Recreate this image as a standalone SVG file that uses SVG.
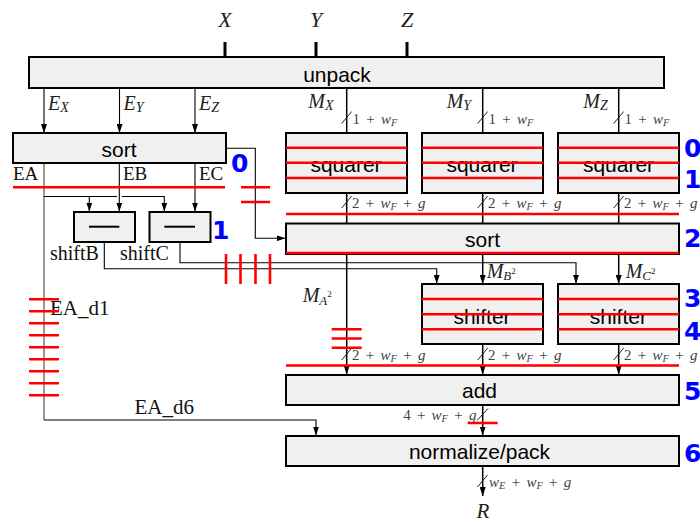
<svg xmlns="http://www.w3.org/2000/svg" width="700" height="522" viewBox="0 0 700 522">
<style>
.box{fill:#f0f0f0;stroke:#000;stroke-width:2}
.red{stroke:#ff0000;stroke-width:2.6;fill:none}
.w{stroke:#000;stroke-width:1.1;fill:none}
.wb{stroke:#000;stroke-width:1.5;fill:none}
.wg{stroke:#808080;stroke-width:1.6;fill:none}
.sl{stroke:#222;stroke-width:1;fill:none}
.t{font-family:"Liberation Sans",Arial,sans-serif;font-size:21px;fill:#000;text-anchor:middle}
.rm{font-family:"Liberation Serif","Times New Roman",serif;fill:#111}
.m{font-family:"Liberation Serif","Times New Roman",serif;font-style:italic;fill:#222}
.sm{font-family:"Liberation Serif","Times New Roman",serif;font-size:15px;fill:#444;word-spacing:2.5px}
.n{font-family:"DejaVu Sans",sans-serif;font-weight:bold;font-size:25px;fill:#0000ff}
</style>
<defs>
<marker id="ah" viewBox="0 0 9 6" markerWidth="9" markerHeight="6" refX="9" refY="3" orient="auto" markerUnits="userSpaceOnUse">
<path d="M0,0 L9,3 L0,6 z" fill="#000"/>
</marker>
</defs>

<!-- inputs -->
<g id="inputs">
<line x1="225" y1="42" x2="225" y2="57" stroke="#000" stroke-width="3"/>
<line x1="316" y1="42" x2="316" y2="57" stroke="#000" stroke-width="3"/>
<line x1="407" y1="42" x2="407" y2="57" stroke="#000" stroke-width="3"/>
<text class="m" x="225" y="27" font-size="22" text-anchor="middle">X</text>
<text class="m" x="316" y="27" font-size="22" text-anchor="middle">Y</text>
<text class="m" x="407" y="27" font-size="22" text-anchor="middle">Z</text>
</g>

<!-- connectors -->
<g id="connectors">
<line class="w" x1="44" y1="88" x2="44" y2="133" marker-end="url(#ah)"/>
<line class="w" x1="119.5" y1="88" x2="119.5" y2="133" marker-end="url(#ah)"/>
<line class="w" x1="195" y1="88" x2="195" y2="133" marker-end="url(#ah)"/>
<line class="wb" x1="346.7" y1="88" x2="346.7" y2="133"/>
<line class="wb" x1="482.7" y1="88" x2="482.7" y2="133"/>
<line class="wb" x1="618.7" y1="88" x2="618.7" y2="133"/>
<line class="wb" x1="346.7" y1="193" x2="346.7" y2="223"/>
<line class="wb" x1="482.7" y1="193" x2="482.7" y2="223"/>
<line class="wb" x1="618.7" y1="193" x2="618.7" y2="223"/>
<!-- left sort outputs -->
<path class="wg" d="M44,163 V420"/>
<path class="w" d="M44,420 H316 V435.5" marker-end="url(#ah)"/>
<line class="w" x1="119.3" y1="163" x2="119.3" y2="211.5" marker-end="url(#ah)"/>
<line class="w" x1="195" y1="163" x2="195" y2="211.5" marker-end="url(#ah)"/>
<path class="w" d="M44,196.5 H117"/>
<path class="w" d="M89.3,196.5 V211.5" marker-end="url(#ah)"/>
<path class="w" d="M121.7,196.5 H164.3 V211.5" marker-end="url(#ah)"/>
<path class="w" d="M226,148.3 H255.3 V238.3 H285.5" marker-end="url(#ah)"/>
<!-- shift outputs -->
<path class="w" d="M104.3,241.7 V268.7 H436.7 V283.8" marker-end="url(#ah)"/>
<path class="w" d="M180,241.7 V262.8 H576 V283.8" marker-end="url(#ah)"/>
<!-- sort big outputs -->
<line class="wb" x1="346.7" y1="254" x2="346.7" y2="374.5" marker-end="url(#ah)"/>
<line class="wb" x1="482.7" y1="254" x2="482.7" y2="284" marker-end="url(#ah)"/>
<line class="wb" x1="618.7" y1="254" x2="618.7" y2="284" marker-end="url(#ah)"/>
<line class="wb" x1="482.7" y1="344" x2="482.7" y2="374.5" marker-end="url(#ah)"/>
<line class="wb" x1="618.7" y1="344" x2="618.7" y2="374.5" marker-end="url(#ah)"/>
<line class="wb" x1="482.7" y1="405" x2="482.7" y2="435.5" marker-end="url(#ah)"/>
<line class="wb" x1="482.7" y1="466" x2="482.7" y2="496" marker-end="url(#ah)"/>
<!-- width slashes -->
<path class="sl" d="M341.7,123.5 l10,-12 M477.7,123.5 l10,-12 M613.7,123.5 l10,-12"/>
<path class="sl" d="M341.7,208 l10,-12 M477.7,208 l10,-12 M613.7,208 l10,-12"/>
<path class="sl" d="M341.7,360 l10,-12 M477.7,360 l10,-12 M613.7,360 l10,-12"/>
<path class="sl" d="M477,420.5 l11,-12"/>
<path class="sl" d="M477.5,487 l10,-12"/>
</g>

<!-- nodes -->
<g id="unpack">
<rect class="box" x="29" y="57" width="635" height="31"/>
<text class="t" x="337" y="81.5">unpack</text>
</g>
<g id="sort1">
<rect class="box" x="13" y="133" width="213" height="30"/>
<text class="t" x="119" y="157">sort</text>
</g>
<g id="squarerX">
<rect class="box" x="286" y="133" width="121" height="60"/>
<text class="t" x="346" y="171.5">squarer</text>
</g>
<g id="squarerY">
<rect class="box" x="422" y="133" width="121" height="60"/>
<text class="t" x="482" y="171.5">squarer</text>
</g>
<g id="squarerZ">
<rect class="box" x="558" y="133" width="121" height="60"/>
<text class="t" x="618.5" y="171.5">squarer</text>
</g>
<g id="shiftB">
<rect class="box" x="74" y="212" width="61" height="30"/>
<line x1="89" y1="226.7" x2="119.3" y2="226.7" stroke="#000" stroke-width="2"/>
</g>
<g id="shiftC">
<rect class="box" x="149.5" y="212" width="61" height="30"/>
<line x1="164.3" y1="226.7" x2="195" y2="226.7" stroke="#000" stroke-width="2"/>
</g>
<g id="sort2">
<rect class="box" x="286" y="223.5" width="393" height="30.5"/>
<text class="t" x="482.5" y="246.5">sort</text>
</g>
<g id="shifterB">
<rect class="box" x="422" y="284" width="121" height="60"/>
<text class="t" x="482" y="324">shifter</text>
</g>
<g id="shifterC">
<rect class="box" x="558" y="284" width="121" height="60"/>
<text class="t" x="618.3" y="324">shifter</text>
</g>
<g id="add">
<rect class="box" x="286" y="375" width="393" height="30"/>
<text class="t" x="479.5" y="398">add</text>
</g>
<g id="normalize">
<rect class="box" x="286" y="436" width="393" height="30"/>
<text class="t" x="479.5" y="459">normalize/pack</text>
</g>

<!-- labels -->
<g id="labels">
<text class="m" x="48" y="110" font-size="20">E<tspan font-size="14" dy="2">X</tspan></text>
<text class="m" x="123.5" y="110" font-size="20">E<tspan font-size="14" dy="2">Y</tspan></text>
<text class="m" x="199" y="110" font-size="20">E<tspan font-size="14" dy="2">Z</tspan></text>
<text class="m" x="308.3" y="108.3" font-size="20">M<tspan font-size="14" dy="2">X</tspan></text>
<text class="m" x="446.7" y="108.3" font-size="20">M<tspan font-size="14" dy="2">Y</tspan></text>
<text class="m" x="583.3" y="108.3" font-size="20">M<tspan font-size="14" dy="2">Z</tspan></text>
<text class="sm" x="352.5" y="124.3">1 + <tspan font-style="italic">w</tspan><tspan font-style="italic" font-size="10.5" dy="2">F</tspan></text>
<text class="sm" x="488.5" y="124.3">1 + <tspan font-style="italic">w</tspan><tspan font-style="italic" font-size="10.5" dy="2">F</tspan></text>
<text class="sm" x="624.5" y="124.3">1 + <tspan font-style="italic">w</tspan><tspan font-style="italic" font-size="10.5" dy="2">F</tspan></text>
<text class="sm" x="352" y="208.3">2 + <tspan font-style="italic">w</tspan><tspan font-style="italic" font-size="10.5" dy="2">F</tspan><tspan dy="-2"> + </tspan><tspan font-style="italic">g</tspan></text>
<text class="sm" x="488" y="208.3">2 + <tspan font-style="italic">w</tspan><tspan font-style="italic" font-size="10.5" dy="2">F</tspan><tspan dy="-2"> + </tspan><tspan font-style="italic">g</tspan></text>
<text class="sm" x="624" y="208.3">2 + <tspan font-style="italic">w</tspan><tspan font-style="italic" font-size="10.5" dy="2">F</tspan><tspan dy="-2"> + </tspan><tspan font-style="italic">g</tspan></text>
<text class="sm" x="352" y="360">2 + <tspan font-style="italic">w</tspan><tspan font-style="italic" font-size="10.5" dy="2">F</tspan><tspan dy="-2"> + </tspan><tspan font-style="italic">g</tspan></text>
<text class="sm" x="488" y="360">2 + <tspan font-style="italic">w</tspan><tspan font-style="italic" font-size="10.5" dy="2">F</tspan><tspan dy="-2"> + </tspan><tspan font-style="italic">g</tspan></text>
<text class="sm" x="624" y="360">2 + <tspan font-style="italic">w</tspan><tspan font-style="italic" font-size="10.5" dy="2">F</tspan><tspan dy="-2"> + </tspan><tspan font-style="italic">g</tspan></text>
<text class="sm" x="476.5" y="420" text-anchor="end">4 + <tspan font-style="italic">w</tspan><tspan font-style="italic" font-size="10.5" dy="2">F</tspan><tspan dy="-2"> + </tspan><tspan font-style="italic">g</tspan></text>
<text class="sm" x="489" y="486.5"><tspan font-style="italic">w</tspan><tspan font-style="italic" font-size="10.5" dy="2">E</tspan><tspan dy="-2"> + </tspan><tspan font-style="italic">w</tspan><tspan font-style="italic" font-size="10.5" dy="2">F</tspan><tspan dy="-2"> + </tspan><tspan font-style="italic">g</tspan></text>
<text class="m" x="483" y="518" font-size="21" text-anchor="middle">R</text>
<text class="m" x="302.7" y="301.7" font-size="20" fill="#444">M<tspan font-size="13" dy="3">A</tspan><tspan font-size="9" font-style="normal" dy="-8">2</tspan></text>
<text class="m" x="486.7" y="278.3" font-size="20" fill="#333">M<tspan font-size="13" dy="1.5">B</tspan><tspan font-size="9" font-style="normal" dy="-6">2</tspan></text>
<text class="m" x="625.7" y="278.3" font-size="20" fill="#333">M<tspan font-size="13" dy="1.5">C</tspan><tspan font-size="9" font-style="normal" dy="-6">2</tspan></text>
<text class="rm" x="13" y="180" font-size="19">EA</text>
<text class="rm" x="123" y="180" font-size="19">EB</text>
<text class="rm" x="199" y="180" font-size="19">EC</text>
<text class="rm" x="50" y="260" font-size="20">shiftB</text>
<text class="rm" x="120" y="260" font-size="20">shiftC</text>
<text class="rm" x="50" y="315" font-size="21">EA_d1</text>
<text class="rm" x="134.5" y="414" font-size="21">EA_d6</text>
</g>

<!-- pipeline registers -->
<g id="registers">
<path class="red" d="M13,187.3 H225 M241,187.3 H270 M241,202 H270"/>
<path class="red" d="M286,147.7 H407 M286,162.7 H407 M286,178 H407 M422,147.7 H543 M422,162.7 H543 M422,178 H543 M558,147.7 H679 M558,162.7 H679 M558,178 H679"/>
<path class="red" d="M286,214 H679 M286,253 H679"/>
<path class="red" d="M226,254 V284 M240.5,254 V284 M255.5,254 V284 M270,254 V284"/>
<path class="red" d="M422,299 H543 M422,314.3 H543 M422,329.3 H543 M558,299 H679 M558,314.3 H679 M558,329.3 H679"/>
<path class="red" d="M29,299.3 H59 M29,311.3 H59 M29,323.3 H59 M29,335.3 H59 M29,347.3 H59 M29,359.3 H59 M29,371.3 H59 M29,383.3 H59 M29,395.3 H59"/>
<path class="red" d="M331.7,329.3 H361.7 M331.7,338.5 H361.7 M331.7,347.7 H361.7"/>
<path class="red" d="M286,365.5 H679 M467.7,423 H497.7"/>
</g>

<!-- stage numbers -->
<g id="stages">
<text class="n" x="231" y="172">0</text>
<text class="n" x="212" y="239">1</text>
<text class="n" x="684" y="157">0</text>
<text class="n" x="684" y="188">1</text>
<text class="n" x="684" y="247">2</text>
<text class="n" x="684" y="307">3</text>
<text class="n" x="684" y="340">4</text>
<text class="n" x="684" y="400">5</text>
<text class="n" x="684" y="462">6</text>
</g>
</svg>
